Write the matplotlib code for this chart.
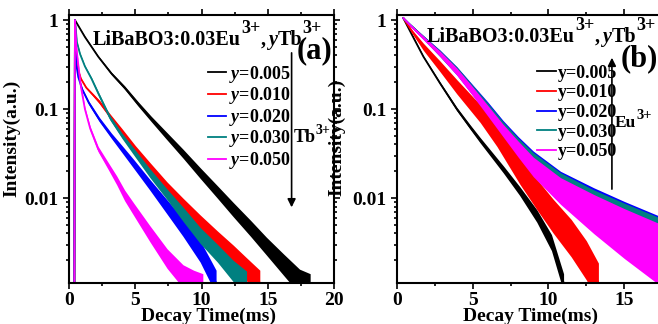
import numpy as np
import matplotlib
matplotlib.use("Agg")
import matplotlib.pyplot as plt
from matplotlib.ticker import MultipleLocator, LogLocator, NullFormatter, FixedLocator, FixedFormatter

plt.rcParams['font.family'] = ['Liberation Serif', 'DejaVu Serif']
plt.rcParams['font.weight'] = 'bold'
plt.rcParams['mathtext.fontset'] = 'custom'
plt.rcParams['mathtext.rm'] = 'Liberation Serif:bold'
plt.rcParams['mathtext.it'] = 'Liberation Serif:bold:italic'
plt.rcParams['mathtext.bf'] = 'Liberation Serif:bold'

# ---- data: time (ms), intensity, noise spread (decades) ----
labels = ["0.005", "0.010", "0.020", "0.030", "0.050"]
colors = ["black", "#ff0000", "#0000ff", "#008080", "#ff00ff"]

# panel (a)
a_black_t = [0.40, 0.45, 1.2, 2.2, 3.2, 4.2, 5.2, 6.2, 7.3, 8.6, 9.9, 11.2, 12.4, 13.7, 14.9, 16.2, 17.4, 18.2]
a_black_i = [0.0008, 1.0, 0.646, 0.389, 0.251, 0.174, 0.115, 0.0776, 0.0513, 0.0316, 0.0191, 0.0117,
             0.0074, 0.00457, 0.00288, 0.00178, 0.00115, 0.0010]
a_black_s = [0, 0, 0.01, 0.01, 0.015, 0.02, 0.025, 0.03, 0.04, 0.05, 0.06, 0.07, 0.08, 0.09, 0.1, 0.12, 0.14, 0.15]

a_red_t = [0.40, 0.45, 0.6, 0.9, 1.3, 1.8, 2.3, 3.1, 4.0, 5.0, 6.1, 7.4, 8.6, 9.9, 11.2, 12.4, 13.4, 14.4]
a_red_i = [0.00063, 1.0, 0.302, 0.219, 0.174, 0.145, 0.120, 0.0832, 0.0562, 0.0355, 0.0224, 0.0132,
           0.0083, 0.00525, 0.00339, 0.00224, 0.00158, 0.00112]
a_red_s = [0, 0, 0.01, 0.01, 0.01, 0.015, 0.02, 0.025, 0.03, 0.04, 0.05, 0.06, 0.08, 0.09, 0.1, 0.12, 0.13, 0.14]

a_blue_t = [0.40, 0.45, 0.55, 0.7, 1.0, 1.5, 2.3, 3.2, 4.0, 4.9, 6.1, 7.4, 8.6, 9.9, 10.6, 11.1]
a_blue_i = [0.00063, 1.0, 0.316, 0.229, 0.166, 0.117, 0.0759, 0.0501, 0.0355, 0.024, 0.0141, 0.00794,
            0.00468, 0.00251, 0.00158, 0.00112]
a_blue_s = [0, 0, 0.01, 0.01, 0.015, 0.02, 0.025, 0.03, 0.04, 0.05, 0.06, 0.08, 0.1, 0.12, 0.13, 0.14]

a_teal_t = [0.40, 0.45, 0.6, 0.83, 1.2, 1.7, 2.2, 3.1, 4.0, 5.0, 6.1, 7.4, 8.6, 9.9, 11.2, 12.4, 13.4]
a_teal_i = [0.00063, 1.0, 0.562, 0.417, 0.302, 0.219, 0.151, 0.0794, 0.0501, 0.0316, 0.0191, 0.011,
            0.0066, 0.0038, 0.0024, 0.00151, 0.00112]
a_teal_s = [0, 0, 0.01, 0.01, 0.01, 0.015, 0.02, 0.025, 0.03, 0.04, 0.05, 0.06, 0.08, 0.09, 0.1, 0.12, 0.13]

a_mag_t = [0.40, 0.45, 0.55, 0.7, 0.9, 1.2, 1.6, 2.2, 3.0, 3.6, 4.2, 4.9, 6.1, 7.4, 8.6, 9.4, 10.1]
a_mag_i = [0.00063, 1.0, 0.501, 0.316, 0.178, 0.1, 0.0603, 0.0355, 0.0224, 0.0158, 0.0107, 0.00741,
           0.00398, 0.00209, 0.00132, 0.00112, 0.0010]
a_mag_s = [0, 0, 0.01, 0.01, 0.015, 0.02, 0.025, 0.03, 0.04, 0.05, 0.06, 0.07, 0.09, 0.11, 0.13, 0.14, 0.15]

# panel (b)
b_black_t = [0.42, 1.0, 1.74, 2.84, 3.95, 4.82, 5.49, 7.03, 8.1, 9.23, 10.2, 11.0]
b_black_i = [1.05, 0.676, 0.389, 0.195, 0.100, 0.0631, 0.0447, 0.0209, 0.012, 0.0063, 0.00316, 0.00112]
b_black_s = [0, 0.01, 0.01, 0.015, 0.02, 0.025, 0.03, 0.04, 0.05, 0.07, 0.09, 0.1]

b_red_t = [0.42, 1.0, 1.74, 2.84, 3.95, 5.49, 6.6, 8.13, 9.2, 10.3, 11.5, 12.5, 13.3]
b_red_i = [1.05, 0.741, 0.501, 0.302, 0.178, 0.0891, 0.0501, 0.02, 0.0112, 0.0063, 0.00355,
           0.002, 0.00112]
b_red_s = [0, 0.02, 0.04, 0.06, 0.08, 0.1, 0.12, 0.15, 0.17, 0.19, 0.21, 0.22, 0.22]

b_tail_t = [0.42, 1.0, 1.74, 2.84, 3.95, 5.0, 6.0, 7.0, 8.0, 9.0, 10.8, 13.0, 15.0, 17.5]
b_blue_i = [1.05, 0.84, 0.64, 0.425, 0.27, 0.165, 0.102, 0.062, 0.039, 0.025, 0.0135, 0.0075,
            0.0046, 0.0026]
b_blue_s = [0, 0.015, 0.02, 0.035, 0.045, 0.055, 0.07, 0.08, 0.1, 0.13, 0.17, 0.24, 0.3, 0.37]
b_teal_i = [1.05, 0.84, 0.64, 0.42, 0.268, 0.162, 0.099, 0.06, 0.0375, 0.024, 0.013, 0.0071,
            0.0044, 0.0025]
b_teal_s = [0, 0.015, 0.02, 0.035, 0.045, 0.055, 0.07, 0.08, 0.1, 0.13, 0.17, 0.24, 0.3, 0.37]
b_mag_i = [1.05, 0.832, 0.631, 0.417, 0.263, 0.158, 0.0955, 0.0575, 0.0355, 0.0224, 0.012, 0.0066,
           0.004, 0.00224]
b_mag_s = [0, 0.015, 0.02, 0.03, 0.04, 0.05, 0.06, 0.07, 0.09, 0.11, 0.15, 0.22, 0.28, 0.35]

a_series = [(a_black_t, a_black_i, a_black_s), (a_red_t, a_red_i, a_red_s), (a_blue_t, a_blue_i, a_blue_s),
            (a_teal_t, a_teal_i, a_teal_s), (a_mag_t, a_mag_i, a_mag_s)]
b_series = [(b_black_t, b_black_i, b_black_s), (b_red_t, b_red_i, b_red_s), (b_tail_t, b_blue_i, b_blue_s),
            (b_tail_t, b_teal_i, b_teal_s), (b_tail_t, b_mag_i, b_mag_s)]

W, H = 658, 324


def draw(ax, t, i, s, color, label, z):
    t = np.array(t)
    i = np.array(i)
    s = np.array(s)
    # noise band and the decay line drawn together so later series sit on top
    ax.fill_between(t, i * 10 ** -s, i * 10 ** s, color=color, lw=0, zorder=z)
    ax.plot(t, i, color=color, lw=1.3, label=label, zorder=z)


def style(ax, xmax, xticks):
    ax.set_yscale('log')
    ax.set_ylim(0.00111, 1.14)
    ax.set_xlim(0, xmax)
    ax.xaxis.set_major_locator(FixedLocator(xticks))
    ax.xaxis.set_minor_locator(MultipleLocator(2.5))
    ax.yaxis.set_major_locator(FixedLocator([0.01, 0.1, 1]))
    ax.yaxis.set_major_formatter(FixedFormatter(["0.01", "0.1", "1"]))
    ax.yaxis.set_minor_locator(LogLocator(base=10, subs=np.arange(2, 10)))
    ax.yaxis.set_minor_formatter(NullFormatter())
    ax.tick_params(which='both', direction='out', top=True, right=True, labelsize=14, width=1.2)
    ax.tick_params(which='major', length=4)
    ax.tick_params(which='minor', length=2.5)
    ax.tick_params(axis='x', which='major', pad=2.5)
    for sp in ax.spines.values():
        sp.set_linewidth(1.5)
        sp.set_zorder(10)
    ax.set_xlabel("Decay Time(ms)", fontsize=14, fontweight='bold')
    ax.set_ylabel("Intensity(a.u.)", fontsize=14, fontweight='bold')


def rich(ax, x, y, parts):
    # pieces of text on one baseline, superscripts raised by a number of pixels
    r = fig.canvas.get_renderer()
    xd, yd = ax.transAxes.transform((x, y))
    for s, size, rise, fstyle in parts:
        if s == "":
            xd += size
            continue
        t = fig.text(xd / W, (yd + rise) / H, s, fontsize=size, fontstyle=fstyle,
                     fontweight='bold', va='baseline', ha='left')
        xd += t.get_window_extent(renderer=r).width


fig = plt.figure(figsize=(6.58, 3.24), dpi=100)
ax1 = fig.add_axes([69 / W, 41 / H, 265 / W, 268 / H])
ax2 = fig.add_axes([397 / W, 41 / H, 265 / W, 268 / H])

for n, ((t, i, s), c, lab) in enumerate(zip(a_series, colors, labels)):
    draw(ax1, t, i, s, c, "$y$=" + lab, 2 + n)
for n, ((t, i, s), c, lab) in enumerate(zip(b_series, colors, labels)):
    draw(ax2, t, i, s, c, "y=" + lab, 2 + n)

style(ax1, 20, [0, 5, 10, 15, 20])
style(ax2, 17.5, [0, 5, 10, 15])

ax1.xaxis.set_label_coords(0.528, -0.093)
ax1.yaxis.set_label_coords(-0.185, 0.541)
ax2.xaxis.set_label_coords(0.502, -0.093)
ax2.yaxis.set_label_coords(-0.195, 0.545)

title = [("LiBaBO3:0.03Eu", 14.5, 0, 'normal'), ("3+", 13, 12, 'normal'), (",", 14.5, 0, 'normal'),
         ("", 3, 0, 'normal'), ("y", 14.5, 0, 'italic'), ("Tb", 14.5, 0, 'normal'), ("3+", 13, 12, 'normal')]
rich(ax1, (93 - 69) / 265, 1 - (45 - 15) / 268, title)
rich(ax2, (427 - 397) / 265, 1 - (42 - 15) / 268, title)

ax1.text(0.925, 0.868, "(a)", transform=ax1.transAxes, fontsize=22, fontweight='bold',
         ha='center', va='center', zorder=12)
ax2.text(0.915, 0.836, "(b)", transform=ax2.transAxes, fontsize=22, fontweight='bold',
         ha='center', va='center', zorder=12)

for ax, x0, ls in [(ax1, 0.525, 0.03), (ax2, 0.53, 0.15)]:
    leg = ax.legend(loc='upper left', bbox_to_anchor=(x0, 0.818 if ax is ax1 else 0.815), frameon=False,
                    fontsize=13, handlelength=1.0, handletextpad=0.15, labelspacing=ls,
                    borderpad=0, borderaxespad=0)
    leg.set_zorder(12)

# arrows and ion labels
ax1.annotate("", xy=(0.84, 0.272), xytext=(0.84, 0.869), xycoords='axes fraction',
             arrowprops=dict(arrowstyle='-|>', color='black', lw=1.2, mutation_scale=12), zorder=12)
ax2.annotate("", xy=(0.811, 0.851), xytext=(0.811, 0.340), xycoords='axes fraction',
             arrowprops=dict(arrowstyle='-|>', color='black', lw=1.2, mutation_scale=12), zorder=12)
rich(ax1, (294 - 69) / 265, 1 - (142 - 15) / 268, [("Tb", 13, 0, 'normal'), ("3+", 10, 8, 'normal')])
rich(ax2, (615 - 397) / 265, 1 - (127 - 15) / 268, [("Eu", 12.5, 0, 'normal'), ("3+", 10.5, 8, 'normal')])

fig.savefig("out.png", dpi=100)
